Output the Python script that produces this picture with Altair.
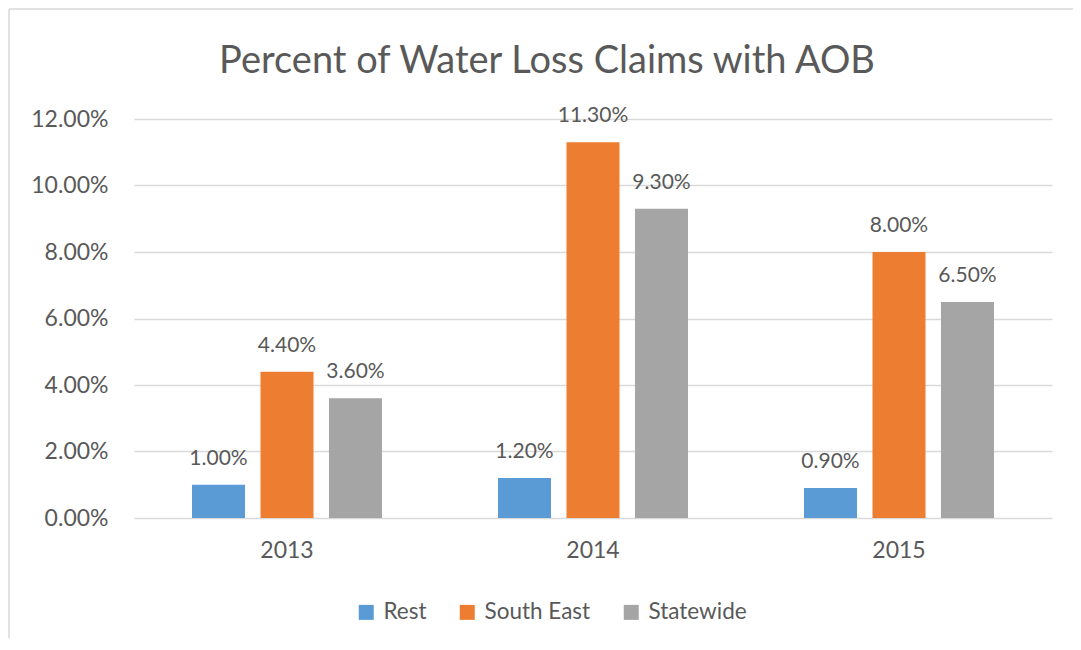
import altair as alt
import pandas as pd

years = ["2013", "2014", "2015"]
series = ["Rest", "South East", "Statewide"]
rest = [0.010, 0.012, 0.009]
south_east = [0.044, 0.113, 0.080]
statewide = [0.036, 0.093, 0.065]
colors = ["#5B9BD5", "#ED7D31", "#A5A5A5"]
y_ticks = [0.0, 0.02, 0.04, 0.06, 0.08, 0.10, 0.12]
title_text = "Percent of Water Loss Claims with AOB"

rows = []
for i, yr in enumerate(years):
    for s, vals in zip(series, [rest, south_east, statewide]):
        rows.append({"year": yr, "series": s, "value": vals[i]})
df = pd.DataFrame(rows)

FONT = "Lato"
TXT = "#595959"

x_enc = alt.X("year:N", sort=years, title=None,
              scale=alt.Scale(paddingInner=0, paddingOuter=0),
              axis=alt.Axis(labelAngle=0, labelFontSize=23, labelColor=TXT, labelFont=FONT,
                            ticks=False, domain=False, labelPadding=21, grid=False))
xo_enc = alt.XOffset("series:N", sort=series,
                     scale=alt.Scale(paddingInner=0.226, paddingOuter=0.847))
y_enc = alt.Y("value:Q", title=None,
              scale=alt.Scale(domain=[0, 0.12], nice=False),
              axis=alt.Axis(values=y_ticks, format=".2%", labelFontSize=23, labelColor=TXT,
                            labelFont=FONT, ticks=False, domain=False, labelPadding=26,
                            grid=True, gridColor="#D9D9D9", gridWidth=1.5))

base = alt.Chart(df)

bars = base.mark_bar().encode(
    x=x_enc, xOffset=xo_enc, y=y_enc,
    color=alt.Color("series:N", sort=series,
                    scale=alt.Scale(domain=series, range=colors),
                    legend=alt.Legend(title=None, orient="none", direction="horizontal",
                                      legendX=221, legendY=482, symbolType="square",
                                      symbolSize=225, symbolStrokeWidth=0,
                                      labelFontSize=22.5, labelColor=TXT, labelFont=FONT,
                                      labelOffset=6, columnPadding=29)),
)

labels = base.mark_text(baseline="alphabetic", dy=-20, fontSize=21, color=TXT, font=FONT).encode(
    x=alt.X("year:N", sort=years), xOffset=alt.XOffset("series:N", sort=series),
    y="value:Q",
    text=alt.Text("value:Q", format=".2%"),
)

one = pd.DataFrame({"k": [0]})
frame_top = alt.Chart(one).mark_rule(stroke="#D9D9D9", strokeWidth=1.5).encode(
    x=alt.value(-125), x2=alt.value(990), y=alt.value(-110)
)
frame_left = alt.Chart(one).mark_rule(stroke="#D9D9D9", strokeWidth=1.5).encode(
    x=alt.value(-125), y=alt.value(-110), y2=alt.value(600)
)
title = alt.Chart(one).mark_text(text=title_text, fontSize=38, font=FONT, color=TXT,
                                 align="center", baseline="alphabetic").encode(
    x=alt.value(413), y=alt.value(-46)
)

chart = alt.layer(frame_top, frame_left, bars, labels, title).properties(
    width=918, height=399,
    autosize=alt.AutoSizeParams(type="none"),
    padding={"left": 126, "top": 111, "right": 21, "bottom": 120},
).configure_view(stroke=None)

chart.save("out.html", embed_options={"renderer": "svg", "actions": False})
